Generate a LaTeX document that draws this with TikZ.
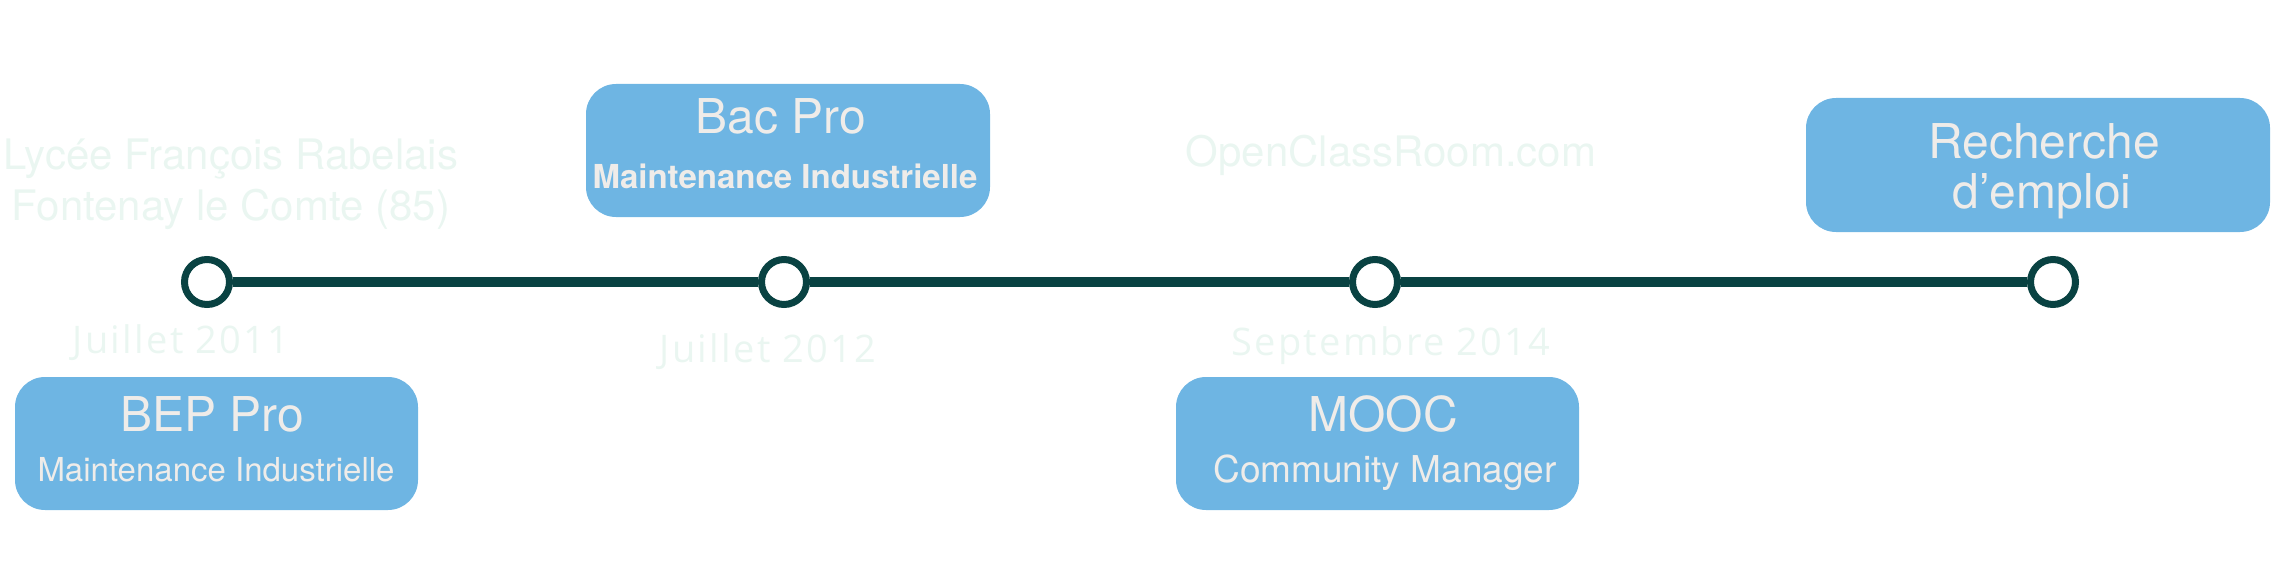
\documentclass[tikz,border=0pt]{standalone}
\usepackage{fontspec}
\setmainfont{TeX Gyre Heros}
\newfontfamily\datefont[LetterSpace=6]{Open Sans}
\definecolor{boxblue}{HTML}{6EB5E3}
\definecolor{boxtext}{HTML}{EFECE9}
\definecolor{faint}{HTML}{EAF6F1}
\definecolor{teal}{HTML}{094242}
\tikzset{
  evbox/.style={rectangle, rounded corners=30pt, fill=boxblue, inner sep=0pt},
  dot/.style={circle, draw=teal, line width=7pt, fill=white, minimum size=45pt, inner sep=0pt},
  tline/.style={draw=teal, line width=10pt},
  title/.style={anchor=base, text=boxtext, inner sep=0pt, font=\fontsize{48}{52}\selectfont},
  sub/.style={anchor=base, text=boxtext, inner sep=0pt, font=\fontsize{33}{37}\selectfont},
  place/.style={anchor=base, text=faint, inner sep=0pt, font=\fontsize{42}{46}\selectfont},
  date/.style={anchor=base, text=faint, inner sep=0pt, font=\datefont\fontsize{38}{42}\selectfont},
}
\begin{document}
\begin{tikzpicture}[x=1pt,y=-1pt]
\useasboundingbox (0,0) rectangle (2281,583);
% boxes
\node[evbox, minimum width=403pt, minimum height=133pt] (bep) at (216.5,443.5) {};
\node[evbox, minimum width=404pt, minimum height=133pt] (bac) at (788,150.5) {};
\node[evbox, minimum width=403pt, minimum height=133pt] (mooc) at (1377.5,443.5) {};
\node[evbox, minimum width=464pt, minimum height=134pt] (rech) at (2038,165) {};
% box texts
\node[title] (bept) at (212,431) {BEP Pro};
\node[sub] (beps) at (216,481) {Maintenance Industrielle};
\node[title] (bact) at (781,134) {Bac Pro};
\node[sub, font=\bfseries\fontsize{33}{37}\selectfont] (bacs) at (785,189) {Maintenance Industrielle};
\node[title] (moot) at (1383,431) {MOOC};
\node[sub, font=\fontsize{37}{41}\selectfont] (moos) at (1385,482) {Community Manager};
\node[title] (recht) at (2044,158) {Recherche};
\node[title] (rechs) at (2042,208) {d’emploi};
% faint labels
\node[place] (lyc1) at (231,170) {Lycée François Rabelais};
\node[place] (lyc2) at (231,220) {Fontenay le Comte (85)};
\node[place] (ocr) at (1391,167) {OpenClassRoom.com};
\node[date] (d1) at (181,353) {Juillet 2011};
\node[date] (d2) at (768,362) {Juillet 2012};
\node[date] (d3) at (1391,355) {Septembre 2014};
% timeline
\node[dot] (c1) at (207,282) {};
\node[dot] (c2) at (784,282) {};
\node[dot] (c3) at (1375,282) {};
\node[dot] (c4) at (2053,282) {};
\draw[tline] (c1) -- (c2);
\draw[tline] (c2) -- (c3);
\draw[tline] (c3) -- (c4);
\end{tikzpicture}
\end{document}
